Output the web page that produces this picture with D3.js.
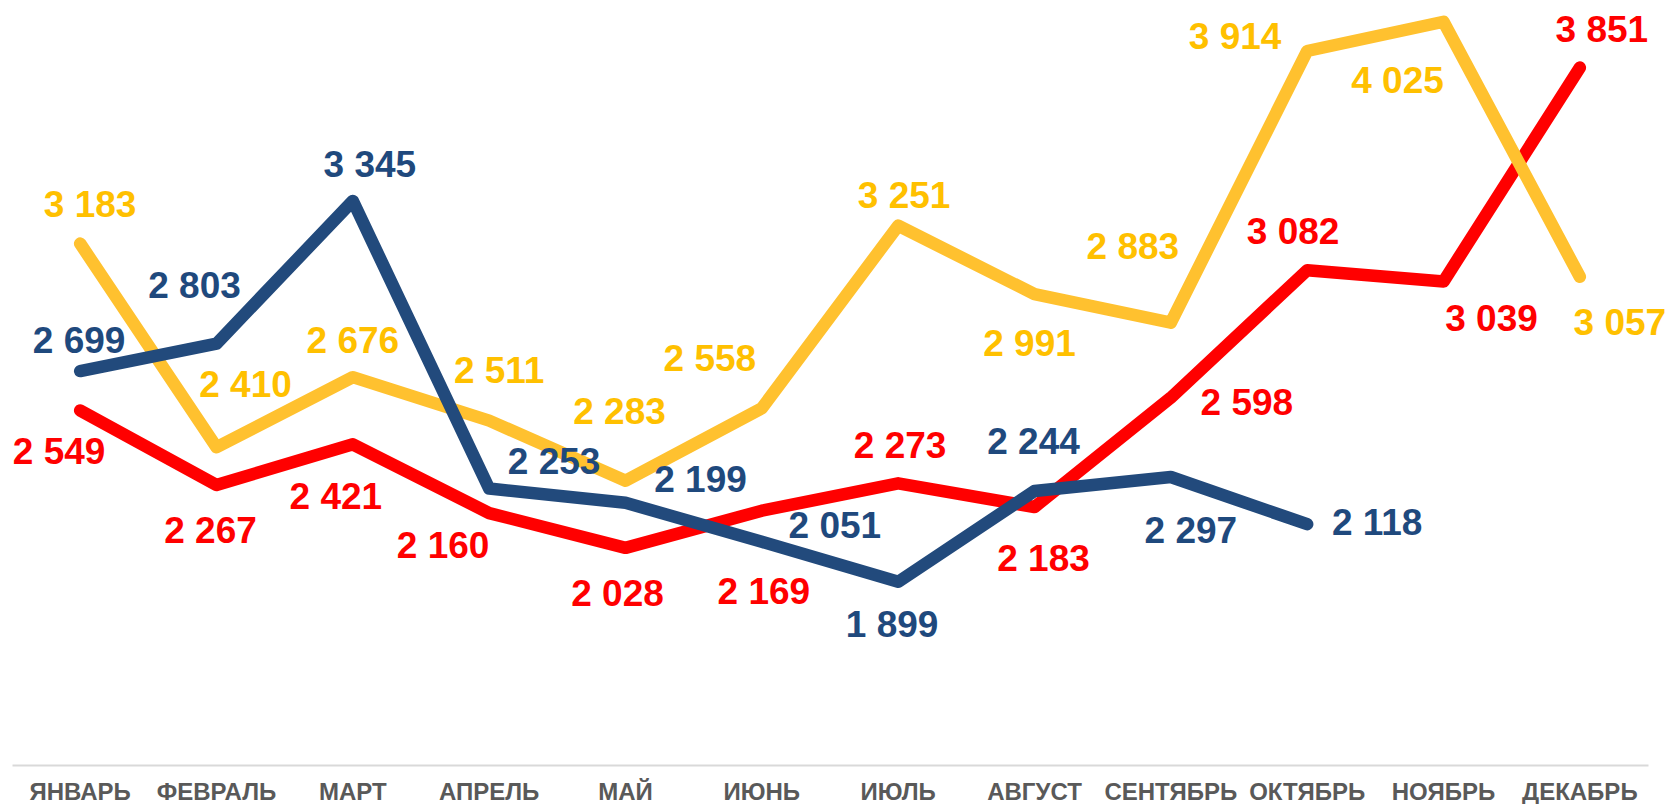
<!DOCTYPE html>
<html>
<head>
<meta charset="utf-8">
<script src="https://cdn.jsdelivr.net/npm/d3@7"></script>
<style>
  body { margin: 0; background: #fff; }
  svg { display: block; }
  .axis .domain { stroke: #d9d9d9; stroke-width: 2; }
  .axis text { font-family: "Liberation Sans", Arial, sans-serif; font-weight: bold; font-size: 24px; fill: #595959; }
  .label { font-family: "Liberation Sans", Arial, sans-serif; font-weight: bold; font-size: 37px; text-anchor: middle; }
</style>
</head>
<body>
<svg width="1670" height="804"></svg>
<script>
// months on the category axis
var months = ["ЯНВАРЬ", "ФЕВРАЛЬ", "МАРТ", "АПРЕЛЬ", "МАЙ", "ИЮНЬ",
              "ИЮЛЬ", "АВГУСТ", "СЕНТЯБРЬ", "ОКТЯБРЬ", "НОЯБРЬ", "ДЕКАБРЬ"];

// values
var valuesRed    = [2549, 2267, 2421, 2160, 2028, 2169, 2273, 2183, 2598, 3082, 3039, 3851];
var valuesYellow = [3183, 2410, 2676, 2511, 2283, 2558, 3251, 2991, 2883, 3914, 4025, 3057];
var valuesBlue   = [2699, 2803, 3345, 2253, 2199, 2051, 1899, 2244, 2297, 2118, null, null];

// where each data label sits relative to its point (dx, baseline dy)
var offsetsRed    = [[-21,53],[-6,58],[-17,65],[-46,45],[-8,58],[2,93],[2,-25],[9,64],[76,17],[-14,-26],[48,49],[22,-26]];
var offsetsYellow = [[10,-27],[29,-50],[0,-24],[10,-38],[-6,-57],[-52,-37],[6,-18],[-5,62],[-38,-64],[-72,-2],[-46,71],[40,58]];
var offsetsBlue   = [[-1,-18],[-22,-46],[17,-24],[65,-15],[75,-11],[73,-4],[-6,55],[-1,-37],[20,66],[70,11]];

var series = [
    { values: valuesRed,    offsets: offsetsRed,    line: "#ff0000", text: "#ff0000" },
    { values: valuesYellow, offsets: offsetsYellow, line: "#ffc12f", text: "#ffc000" },
    { values: valuesBlue,   offsets: offsetsBlue,   line: "#224a7c", text: "#1f497d" }
];

var svg = d3.select("svg"),
    width = +svg.attr("width"),
    height = +svg.attr("height");

var x = d3.scaleBand().domain(months).range([12, 1648]);
var y = d3.scaleLinear().domain([1200, 4100]).range([766, 2]);

function cx(i) { return x(months[i]) + x.bandwidth() / 2; }

// space as thousands separator
var fmt = d3.formatLocale({ decimal: ",", thousands: " ", grouping: [3], currency: ["", ""] }).format(",d");

// category axis
var axis = svg.append("g")
    .attr("class", "axis")
    .attr("transform", "translate(0,765)")
    .call(d3.axisBottom(x).tickSize(0).tickSizeOuter(0));
axis.selectAll("text").attr("y", 35).attr("dy", 0);

var line = d3.line()
    .defined(function(d) { return d != null; })
    .x(function(d, i) { return cx(i); })
    .y(function(d) { return y(d); });

// lines first, labels on top
series.forEach(function(s) {
    svg.append("path")
        .datum(s.values)
        .attr("fill", "none")
        .attr("stroke", s.line)
        .attr("stroke-width", 12.5)
        .attr("stroke-linejoin", "round")
        .attr("stroke-linecap", "round")
        .attr("d", line);
});

series.forEach(function(s) {
    svg.append("g").selectAll("text")
        .data(s.values.map(function(v, i) { return { v: v, i: i }; })
                      .filter(function(d) { return d.v != null; }))
        .enter().append("text")
        .attr("class", "label")
        .attr("fill", s.text)
        .attr("x", function(d) { return cx(d.i) + s.offsets[d.i][0]; })
        .attr("y", function(d) { return y(d.v) + s.offsets[d.i][1]; })
        .text(function(d) { return fmt(d.v); });
});
</script>
</body>
</html>
